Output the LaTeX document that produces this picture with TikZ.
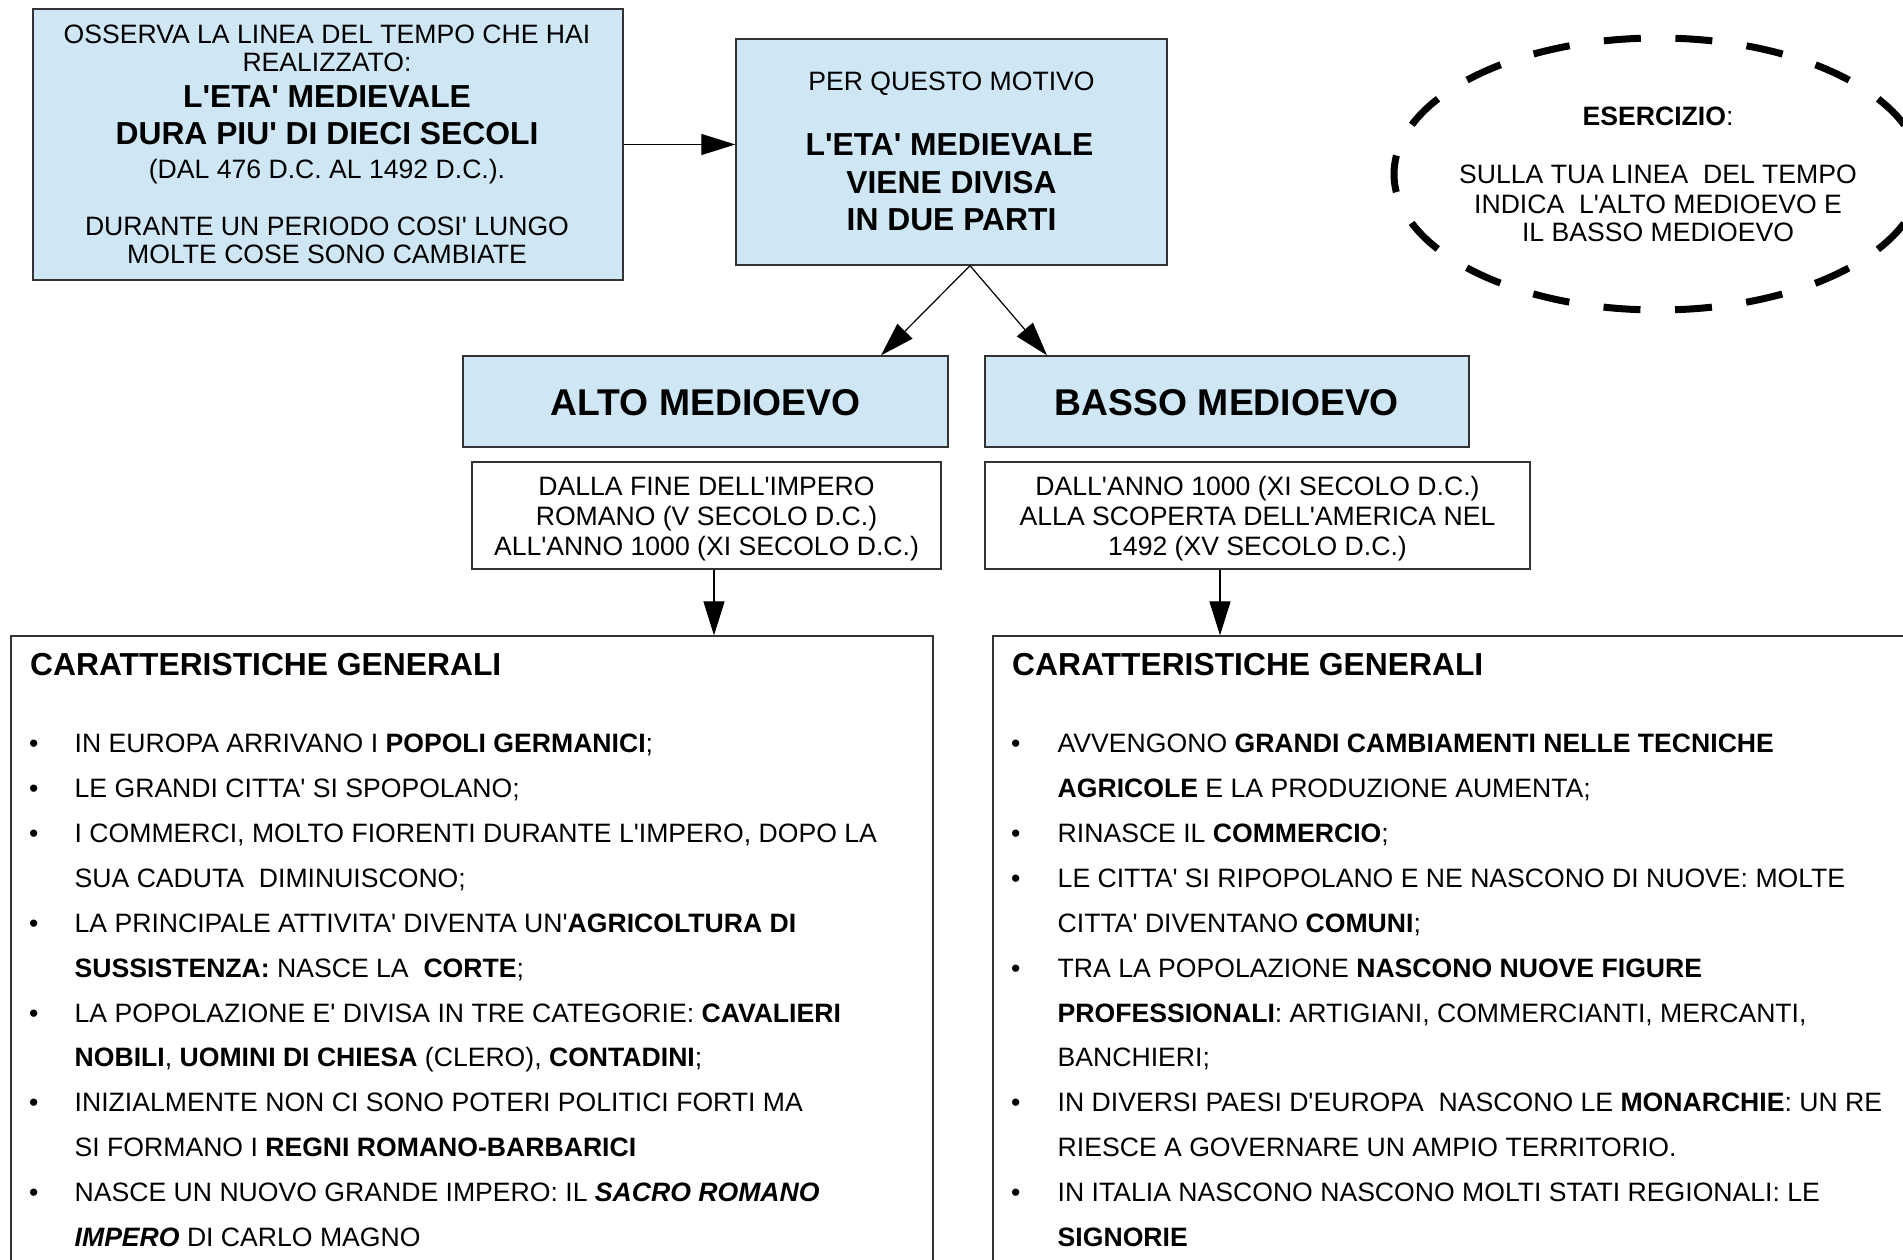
\documentclass[tikz,border=0pt]{standalone}
\usepackage{fontspec}
\usetikzlibrary{arrows.meta,shapes.geometric}
\newfontfamily\ls{Liberation Sans}
\newcommand\fs{\ls\fontsize{26.6}{30}\selectfont}
\newcommand\fb{\ls\fontsize{31.8}{37}\selectfont\bfseries}
\newcommand\fh{\ls\fontsize{37.3}{44}\selectfont\bfseries}
\definecolor{boxblue}{RGB}{207,231,245}
\tikzset{
  bluebox/.style={draw=black!80, line width=1.3pt, fill=boxblue, inner sep=0pt, rectangle},
  whitebox/.style={draw=black!80, line width=1.3pt, fill=white, inner sep=0pt, rectangle},
  txt/.style={inner sep=0pt, anchor=base, font=\fs},
  btxt/.style={inner sep=0pt, anchor=base, font=\fb},
  lft/.style={inner sep=0pt, anchor=base west, font=\fs},
  arr/.style={line width=1.2pt, -{Triangle[length=34pt,width=21pt]}},
  dashell/.style={ellipse, draw=black, line width=7pt, inner sep=0pt,
    dash pattern=on 37pt off 34.6pt, dash phase=18.5pt},
}
\begin{document}
\begin{tikzpicture}[x=1pt,y=-1pt]
\useasboundingbox (0,0) rectangle (1903,1260);
\clip (0,0) rectangle (1903,1260);
\fill[white] (0,0) rectangle (1903,1260);

% top-left box
\node[bluebox, minimum width=590pt, minimum height=271pt] (A) at (328,144.5) {};
\node[txt] (a1) at (327,43.3) {OSSERVA LA LINEA DEL TEMPO CHE HAI};
\node[txt] (a2) at (327,71.7) {REALIZZATO:};
\node[btxt] (a3) at (327,107.3) {L'ETA' MEDIEVALE};
\node[btxt] (a4) at (327,145) {DURA PIU' DI DIECI SECOLI};
\node[txt] (a5) at (327,178.3) {(DAL 476 D.C. AL 1492 D.C.).};
\node[txt] (a6) at (327,235) {DURANTE UN PERIODO COSI' LUNGO};
\node[txt] (a7) at (327,263.3) {MOLTE COSE SONO CAMBIATE};

% second box
\node[bluebox, minimum width=431pt, minimum height=226pt] (B) at (951.5,152) {};
\node[txt] (b1) at (951.5,90.7) {PER QUESTO MOTIVO};
\node[btxt] (b2) at (949.5,156) {L'ETA' MEDIEVALE};
\node[btxt] (b3) at (951.5,193.3) {VIENE DIVISA};
\node[btxt] (b4) at (951.5,230) {IN DUE PARTI};

\draw[arr] (A.east) -- (A.east -| B.west);

% exercise ellipse
\node[dashell, minimum width=528pt, minimum height=272pt] (E) at (1658,174) {};
\node[txt] (e1) at (1658,126) {\textbf{ESERCIZIO}:};
\node[txt] (e2) at (1658,184) {SULLA TUA LINEA~ DEL TEMPO};
\node[txt] (e3) at (1658,213.3) {INDICA~ L'ALTO MEDIOEVO E};
\node[txt] (e4) at (1658,241.7) {IL BASSO MEDIOEVO};

% period boxes
\node[bluebox, minimum width=485pt, minimum height=91pt] (ALTO) at (705.5,401.5) {};
\node[inner sep=0pt, anchor=base, font=\fh] (altot) at (705.5,415) {ALTO MEDIOEVO};
\node[bluebox, minimum width=484pt, minimum height=91pt] (BASSO) at (1227,401.5) {};
\node[inner sep=0pt, anchor=base, font=\fh] (bassot) at (1227,415) {BASSO MEDIOEVO};

\draw[arr] (B.south -| 970,0) -- (ALTO.north -| 881,0);
\draw[arr] (B.south -| 970,0) -- (BASSO.north -| 1047,0);

% date boxes
\node[whitebox, minimum width=469pt, minimum height=107pt] (DL) at (706.5,515.5) {};
\node[txt] (dl1) at (706.5,495) {DALLA FINE DELL'IMPERO};
\node[txt] (dl2) at (706.5,525) {ROMANO (V SECOLO D.C.)};
\node[txt] (dl3) at (706.5,555) {ALL'ANNO 1000 (XI SECOLO D.C.)};
\node[whitebox, minimum width=545pt, minimum height=107pt] (DR) at (1257.5,515.5) {};
\node[txt] (dr1) at (1257.5,495) {DALL'ANNO 1000 (XI SECOLO D.C.)};
\node[txt] (dr2) at (1257.5,525) {ALLA SCOPERTA DELL'AMERICA NEL};
\node[txt] (dr3) at (1257.5,555) {1492 (XV SECOLO D.C.)};

% big boxes
\node[whitebox, minimum width=922pt, minimum height=664pt] (BL) at (472,968) {};
\node[whitebox, minimum width=934pt, minimum height=664pt] (BR) at (1460,968) {};

\draw[arr] (DL.south -| 714,0) -- (BL.north -| 714,0);
\draw[arr] (DR.south -| 1220,0) -- (BR.north -| 1220,0);

% left list
\node[lft, font=\fb] (hl) at (30,675) {CARATTERISTICHE GENERALI};
\node[lft] (pl0) at (29,752.6) {•};
\node[lft] (pl1) at (29,797.5) {•};
\node[lft] (pl2) at (29,842.4) {•};
\node[lft] (pl4) at (29,932.2) {•};
\node[lft] (pl6) at (29,1022.0) {•};
\node[lft] (pl8) at (29,1111.8) {•};
\node[lft] (pl10) at (29,1201.6) {•};
\node[lft] (l0) at (74.5,752.6) {IN EUROPA ARRIVANO I \textbf{POPOLI GERMANICI};};
\node[lft] (l1) at (74.5,797.5) {LE GRANDI CITTA' SI SPOPOLANO;};
\node[lft] (l2) at (74.5,842.4) {I COMMERCI, MOLTO FIORENTI DURANTE L'IMPERO, DOPO LA};
\node[lft] (l3) at (74.5,887.3) {SUA CADUTA~ DIMINUISCONO;};
\node[lft] (l4) at (74.5,932.2) {LA PRINCIPALE ATTIVITA' DIVENTA UN'\textbf{AGRICOLTURA DI}};
\node[lft] (l5) at (74.5,977.1) {\textbf{SUSSISTENZA:} NASCE LA~ \textbf{CORTE};};
\node[lft] (l6) at (74.5,1022.0) {LA POPOLAZIONE E' DIVISA IN TRE CATEGORIE: \textbf{CAVALIERI}};
\node[lft] (l7) at (74.5,1066.9) {\textbf{NOBILI}, \textbf{UOMINI DI CHIESA} (CLERO), \textbf{CONTADINI};};
\node[lft] (l8) at (74.5,1111.8) {INIZIALMENTE NON CI SONO POTERI POLITICI FORTI MA};
\node[lft] (l9) at (74.5,1156.7) {SI FORMANO I \textbf{REGNI ROMANO-BARBARICI}};
\node[lft] (l10) at (74.5,1201.6) {NASCE UN NUOVO GRANDE IMPERO: IL \textbf{\textit{SACRO ROMANO}}};
\node[lft] (l11) at (74.5,1246.5) {\textbf{\textit{IMPERO}} DI CARLO MAGNO};

% right list
\node[lft, font=\fb] (hr) at (1012,675) {CARATTERISTICHE GENERALI};
\node[lft] (pr0) at (1011,752.6) {•};
\node[lft] (pr2) at (1011,842.4) {•};
\node[lft] (pr3) at (1011,887.3) {•};
\node[lft] (pr5) at (1011,977.1) {•};
\node[lft] (pr8) at (1011,1111.8) {•};
\node[lft] (pr10) at (1011,1201.6) {•};
\node[lft] (r0) at (1057.5,752.6) {AVVENGONO \textbf{GRANDI CAMBIAMENTI NELLE TECNICHE}};
\node[lft] (r1) at (1057.5,797.5) {\textbf{AGRICOLE} E LA PRODUZIONE AUMENTA;};
\node[lft] (r2) at (1057.5,842.4) {RINASCE IL \textbf{COMMERCIO};};
\node[lft] (r3) at (1057.5,887.3) {LE CITTA' SI RIPOPOLANO E NE NASCONO DI NUOVE: MOLTE};
\node[lft] (r4) at (1057.5,932.2) {CITTA' DIVENTANO \textbf{COMUNI};};
\node[lft] (r5) at (1057.5,977.1) {TRA LA POPOLAZIONE \textbf{NASCONO NUOVE FIGURE}};
\node[lft] (r6) at (1057.5,1022.0) {\textbf{PROFESSIONALI}: ARTIGIANI, COMMERCIANTI, MERCANTI,};
\node[lft] (r7) at (1057.5,1066.9) {BANCHIERI;};
\node[lft] (r8) at (1057.5,1111.8) {IN DIVERSI PAESI D'EUROPA~ NASCONO LE \textbf{MONARCHIE}: UN RE};
\node[lft] (r9) at (1057.5,1156.7) {RIESCE A GOVERNARE UN AMPIO TERRITORIO.};
\node[lft] (r10) at (1057.5,1201.6) {IN ITALIA NASCONO NASCONO MOLTI STATI REGIONALI: LE};
\node[lft] (r11) at (1057.5,1246.5) {\textbf{SIGNORIE}};
\end{tikzpicture}
\end{document}
